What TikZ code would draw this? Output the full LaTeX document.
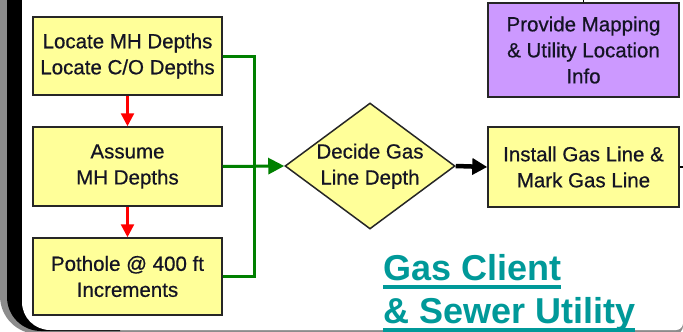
\documentclass[tikz,border=0pt]{standalone}
\usepackage{fontspec}
\setmainfont{Liberation Sans}
\newfontfamily\boxfont[FakeBold=0.6]{Liberation Sans}
\usetikzlibrary{arrows.meta,shapes.geometric}
\definecolor{byellow}{RGB}{255,255,153}
\definecolor{bpurple}{RGB}{204,153,255}
\definecolor{gline}{RGB}{0,128,0}
\definecolor{rline}{RGB}{255,0,0}
\definecolor{tealtxt}{RGB}{0,153,153}
\definecolor{txt}{RGB}{20,20,36}
\definecolor{frgray}{RGB}{140,140,140}
\newcommand\tul[1]{\setbox0\hbox{#1}\rlap{\rule[-8.5pt]{\wd0}{3.5pt}}\box0}
\newcommand\dtext[1]{\raisebox{-11pt}{\smash{\makebox[0pt]{\begin{tabular}{@{}c@{}}#1\end{tabular}}}}}
\tikzset{
  stepbox/.style={draw=black!85, line width=1.5pt, fill=byellow, minimum width=189pt, inner sep=0pt, align=center, text=txt, font=\boxfont\fontsize{20.5}{26}\selectfont},
  infobox/.style={stepbox, fill=bpurple},
  decide/.style={shape=diamond, draw=black!85, line width=1.5pt, fill=byellow, minimum width=170pt, minimum height=126pt, inner sep=0pt, text=txt, font=\boxfont\fontsize{20.5}{26}\selectfont},
  redarr/.style={draw=rline, line width=2.5pt, -{Triangle[length=13pt,width=13pt]}},
  greenln/.style={draw=gline, line width=3pt},
  greenarr/.style={greenln, -{Triangle[length=16pt,width=16pt]}},
  blackarr/.style={draw=black, line width=4.5pt, -{Triangle[length=15pt,width=16pt]}},
  title/.style={anchor=base west, inner sep=0pt, text=tealtxt, font=\fontsize{36}{42}\selectfont\bfseries}
}
\begin{document}
\begin{tikzpicture}[x=1pt,y=-1pt]
\useasboundingbox (0,0) rectangle (683,332);
\fill[white] (0,0) rectangle (683,332);
% frame
\fill[frgray] (0,-60) [rounded corners=38] -- (0,334) [rounded corners=8] -- (683,334) [sharp corners] -- (683,-60) -- cycle;
\fill[black] (7,-60) [rounded corners=34] -- (7,331) [sharp corners] -- (120,331) -- (120,-60) -- cycle;
\fill[white] (22,-60) [rounded corners=28] -- (22,330) [rounded corners=7] -- (683,330) [sharp corners] -- (683,-60) -- cycle;

% nodes
\node[stepbox, minimum height=78pt] (b1) at (127.5,56) {Locate MH Depths\\Locate C/O Depths};
\node[stepbox, minimum height=79pt] (b2) at (127.5,166.5) {Assume\\MH Depths};
\node[stepbox, minimum height=77pt] (b3) at (127.5,276.5) {Pothole @ 400 ft\\Increments};
\node[decide] (d) at (370,166) {\dtext{Decide Gas\\Line Depth}};
\node[stepbox, minimum width=191pt, minimum height=80pt] (b4) at (583.5,167) {Install Gas Line \&\\Mark Gas Line};
\node[infobox, minimum width=191pt, minimum height=94pt] (p) at (583.5,50) {Provide Mapping\\\& Utility Location\\Info};

\node[title] (t1) at (383,280) {\tul{Gas Client}};
\node[title] (t2) at (383,323) {\tul{\& Sewer Utility}};

% connectors
\coordinate (j) at (254,166.5);
\coordinate (pstub) at (583.5,-2);
\coordinate (rstub) at (685,167);
\draw[redarr] (b1.south) -- (b2.north);
\draw[redarr] (b2.south) -- (b3.north);
\draw[greenln] (b1.east) -| (j);
\draw[greenln] (b3.east) -| (j);
\draw[greenarr] (b2.east) -- (d.west);
\draw[blackarr] (d.east) -- (b4.west);
\draw[draw=black, line width=1.5pt] (p.north) -- (pstub);
\draw[draw=black, line width=2.5pt] (b4.east) -- (rstub);
\end{tikzpicture}
\end{document}
